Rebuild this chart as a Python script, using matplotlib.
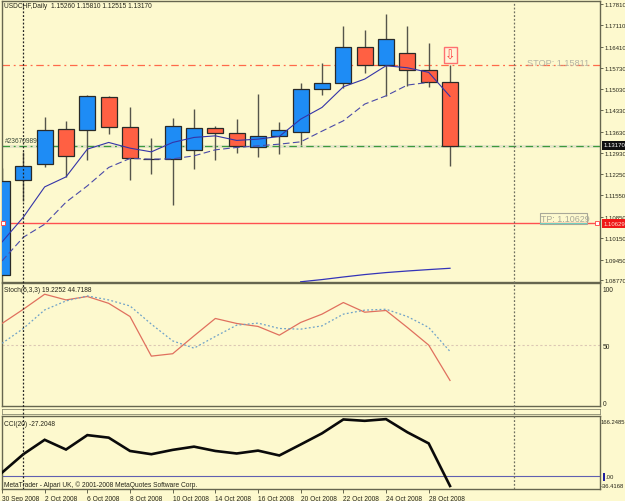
#!/usr/bin/env python
"""USDCHF daily chart with stochastic and CCI panels."""
import matplotlib

matplotlib.use('AGG')  # noqa

import matplotlib.pyplot as plt
from matplotlib.patches import Rectangle

W, H = 625, 502
BG = '#FDF9CE'
FRAME = '#66664F'
BLUE = '#1E8CF5'
RED = '#FF6043'
TXT = '#26261A'
SMALL = 4.75
SCALE = 4.35

opens = [1.08957, 1.12045, 1.12560, 1.13706, 1.13683, 1.14764, 1.13791, 1.12743,
         1.12723, 1.13038, 1.13739, 1.13595, 1.13116, 1.13477, 1.13608, 1.15016,
         1.15232, 1.16392, 1.15822, 1.16205, 1.15638, 1.15260]
highs = [1.12429, 1.12972, 1.14109, 1.13988, 1.14839, 1.14806, 1.14426, 1.13411,
         1.14076, 1.14381, 1.13804, 1.14033, 1.14862, 1.13935, 1.15222, 1.15878,
         1.17080, 1.16949, 1.17473, 1.17099, 1.16533, 1.15810]
lows = [1.08957, 1.11367, 1.12461, 1.12134, 1.12691, 1.13542, 1.12055, 1.12242,
        1.11236, 1.12415, 1.12691, 1.12939, 1.12808, 1.12887, 1.13202, 1.14839,
        1.15049, 1.15550, 1.14797, 1.15134, 1.15091, 1.12515]
closes = [1.12022, 1.12514, 1.13673, 1.12822, 1.14787, 1.13791, 1.12756, 1.12723,
          1.13804, 1.13739, 1.13595, 1.13149, 1.13477, 1.13683, 1.15026, 1.15232,
          1.16402, 1.15812, 1.16654, 1.15638, 1.15245, 1.13170]

ma_fast = [1.10024, 1.10833, 1.11826, 1.12153, 1.13061, 1.13280, 1.13093, 1.12972,
           1.13280, 1.13444, 1.13496, 1.13346, 1.13388, 1.13477, 1.14043, 1.14426,
           1.15101, 1.15353, 1.15789, 1.15724, 1.15573, 1.14787]
ma_slow = [1.09402, 1.10178, 1.10604, 1.11325, 1.11859, 1.12461, 1.12756, 1.12733,
           1.12743, 1.12841, 1.13038, 1.13116, 1.13169, 1.13224, 1.13300, 1.13650,
           1.13988, 1.14535, 1.14806, 1.15157, 1.15245]
ma_long = [1.08721, 1.08793, 1.08878, 1.08957, 1.09022, 1.09074, 1.09120, 1.09163]

stoch_k = [69.3, 81.8, 95, 90, 93, 87, 75.4, 40.6, 42.7, 58.4, 73.7, 69.3, 66.7, 59,
           70.2, 77.5, 87.7, 79.2, 80.7, 65.8, 50.3, 19.2252]
stoch_d = [51.8, 64.9, 81.2, 89.1, 93.5, 90, 84.7, 68.7, 54, 47.6, 57.9, 67.8, 69.6,
           64.9, 64.3, 67.2, 77.5, 81, 81.8, 75.4, 65.8, 44.7188]
cci = [9.8, 61, 101, 74, 114, 107, 70, 61, 73, 82, 70, 63, 71, 57.5, 88, 119, 157.5,
       153.7, 158.4, 122, 91, -27.2048]

date_pos = [0, 2, 4, 6, 8, 10, 12, 14, 16, 18, 20]
date_labels = ['30 Sep 2008', '2 Oct 2008', '6 Oct 2008', '8 Oct 2008', '10 Oct 2008',
               '14 Oct 2008', '16 Oct 2008', '20 Oct 2008', '22 Oct 2008', '24 Oct 2008',
               '28 Oct 2008']
price_ticks = [1.17810, 1.17110, 1.16410, 1.15730, 1.15030, 1.14330, 1.13630, 1.12930,
               1.12250, 1.11550, 1.10850, 1.10150, 1.09450, 1.08770]
stoch_ticks = [0, 50, 100]

order_price = 1.13170
stop_price = 1.15811
tp_price = 1.10629
separators = [1, 24]

XMAX = 28.03
BAR_W = 0.75


def box(top, bottom):
    """Axes rectangle for a panel given its pixel rows."""
    return [2 / W, 1 - bottom / H, 598 / W, (bottom - top) / H]


def label(x, y, s, **kw):
    kw.setdefault('color', TXT)
    kw.setdefault('fontsize', SMALL)
    kw.setdefault('va', 'center')
    fig.text(x / W, 1 - y / H, s, **kw)


def flag(x, y, w, h, col):
    fig.add_artist(Rectangle((x / W, 1 - (y + h) / H), w / W, h / H, fc=col, ec='none',
                             transform=fig.transFigure))


plt.rcParams['font.family'] = ['Liberation Sans', 'DejaVu Sans']

fig = plt.figure(figsize=(W / 100, H / 100), dpi=100, facecolor=BG)

ax = fig.add_axes(box(2, 283.3), facecolor=BG)
ax_st = fig.add_axes(box(284.3, 407.3), facecolor=BG)
ax_gap = fig.add_axes(box(409.8, 415), facecolor=BG)
ax_cci = fig.add_axes(box(417.3, 490.3), facecolor=BG)

for a in (ax, ax_st, ax_gap, ax_cci):
    a.set_xlim(0, XMAX)
    for sp in a.spines.values():
        sp.set_color(FRAME)
        sp.set_linewidth(1.0)
    a.yaxis.tick_right()
    a.tick_params(axis='x', length=0, labelbottom=False)
    a.tick_params(axis='y', length=2.2, width=0.7, color=FRAME, pad=0.8,
                  labelsize=SCALE, labelcolor=TXT)
ax_gap.set_yticks([])
for sp in ax_gap.spines.values():
    sp.set_linewidth(0.6)
    sp.set_color('#8A8A70')

# price panel
ax.set_ylim(1.08704, 1.17908)
ax.set_yticks(price_ticks)
ax.set_yticklabels(['%.5f' % p for p in price_ticks])

ax.axhline(order_price, color='#E6E6C8', lw=2.2, zorder=1)
ax.axhline(order_price, color='#3C9A3C', lw=0.9, ls=(0, (6, 3, 1.5, 3)), zorder=1.1)
ax.axhline(stop_price, color='#FF6A4A', lw=0.9, ls=(0, (6, 3, 1.5, 3)), zorder=1.1)
ax.axhline(tp_price, color='#FF5050', lw=1.0, zorder=1.1)

for i, (o, h, l, c) in enumerate(zip(opens, highs, lows, closes)):
    col = BLUE if c >= o else RED
    ax.vlines(i, l, h, color='#55554A', lw=1.0, zorder=2)
    ax.bar(i, abs(c - o), bottom=min(o, c), width=BAR_W, color=col,
           edgecolor='#2A2A28', linewidth=0.9, zorder=3)

ax.plot(range(len(ma_fast)), ma_fast, color='#3434A8', lw=0.8, zorder=4)
ax.plot(range(len(ma_slow)), ma_slow, color='#4A4AA8', lw=0.8, ls=(0, (6, 3)), zorder=4)
ax.plot(range(14, 14 + len(ma_long)), ma_long, color='#3434B8', lw=0.9, zorder=4)

# sell arrow above the last candle
ax.text(21, 1.16140, '\u21e9', color='#FF3C3C', fontsize=9, ha='center', va='center',
        family='DejaVu Sans', zorder=5,
        bbox=dict(boxstyle='square,pad=0.1', fc='#FFF4D8', ec='#FF7070', lw=1.0))

# tp marker squares on the order line
ax.plot([0.05, 27.9], [tp_price, tp_price], ls='none', marker='s', ms=2.6, mfc='white',
        mec='#FF4040', mew=0.6, zorder=5, clip_on=False)

# stochastic panel
ax_st.set_ylim(-3.5, 104.6)
ax_st.set_yticks(stoch_ticks)
ax_st.set_yticklabels([str(t) for t in stoch_ticks])
ax_st.tick_params(axis='y', length=0, pad=2.0, labelsize=SMALL)
ax_st.axhline(50, color='#DCC8B4', lw=0.8, ls=(0, (2, 2)), zorder=1)
ax_st.plot(range(len(stoch_k)), stoch_k, color='#E0705E', lw=0.9, zorder=3)
ax_st.plot(range(len(stoch_d)), stoch_d, color='#6FA2C8', lw=0.9, ls=(0, (1.5, 1.8)), zorder=3)

# cci panel
ax_cci.set_ylim(-36.4168, 166.2485)
ax_cci.set_yticks([])
ax_cci.axhline(0, color='#6060B0', lw=0.8, zorder=1)
ax_cci.plot(range(len(cci)), cci, color='#0A0A0A', lw=1.9, zorder=3, solid_joinstyle='miter')
ax_cci.set_xticks(date_pos)
ax_cci.set_xticklabels(date_labels, ha='left')
ax_cci.tick_params(axis='x', length=3, width=0.7, color=FRAME, pad=1, labelbottom=True,
                   labelsize=SMALL, labelcolor=TXT)

# period separators run through every panel
over = fig.add_axes(box(2, 490.3), facecolor='none', zorder=10)
over.set_xlim(0, XMAX)
over.set_axis_off()
for sx, col in zip(separators, ['#222222', '#707060']):
    over.axvline(sx, color=col, lw=0.9, ls=(0, (1.5, 1.5)))

# captions
label(4, 7, 'USDCHF,Daily  1.15260 1.15810 1.12515 1.13170')
label(5, 142, '#23670989', color='#3A4A3A')
label(4, 291, 'Stoch(5,3,3) 19.2252 44.7188')
label(4, 424, 'CCI(20) -27.2048')
label(4, 485, 'MetaTrader - Alpari UK, \u00a9 2001-2008 MetaQuotes Software Corp.')
label(527, 63, 'STOP: 1.15811', color='#B4B4A4', fontsize=6.6)

fig.add_artist(Rectangle((540 / W, 1 - 224.5 / H), 47 / W, 10.5 / H, fc='none', ec='#A8A898', lw=0.8,
                         transform=fig.transFigure))
flag(540, 224, 47, 0.8, '#70D0C0')
label(541, 219, 'TP: 1.10629', color='#A8A898', fontsize=6.4)

# current price and take profit flags on the right scale
flag(602, 141.5, 23, 9, '#101010')
label(604, 146, '%.5f' % closes[-1], color='white', fontsize=SCALE)
flag(602, 220, 23, 8.5, '#F01818')
label(604, 224.3, '%.5f' % tp_price, color='#FFE0D0', fontsize=SCALE)

# cci scale
label(601, 422, '166.2485', fontsize=4.2)
flag(602.5, 473.5, 2.5, 8, '#2020A0')
label(605, 477.5, '.00', fontsize=SCALE)
label(601, 487, '-36.4168', fontsize=4.2)

plt.savefig('out.png', dpi=100, facecolor=BG)
